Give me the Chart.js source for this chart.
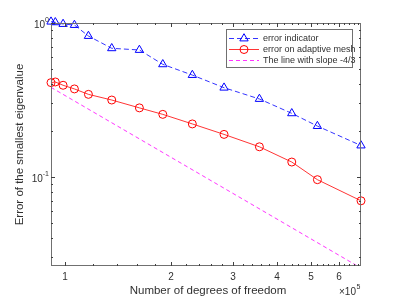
<!DOCTYPE html>
<html>
<head>
<meta charset="utf-8">
<script src="https://cdn.jsdelivr.net/npm/chart.js@4.4.0/dist/chart.umd.min.js"></script>
<style>
  html, body { margin: 0; padding: 0; background: #fff; }
  canvas { display: block; }
</style>
</head>
<body>
<canvas id="grafico" width="398" height="299"></canvas>
<script>
// degrees of freedom for each adaptive step
const grados = [91200, 93800, 98700, 106300, 116500, 135700, 162600, 189500, 229900, 282900, 356500, 440600, 521000, 693000];
// error indicator (blue triangles)
const errorIndicador = [1.02, 1.01, 0.985, 0.97, 0.823, 0.685, 0.668, 0.539, 0.459, 0.38, 0.321, 0.259, 0.214, 0.16];
// error on adaptive mesh (red circles)
const errorAdaptativo = [0.41, 0.414, 0.394, 0.373, 0.344, 0.316, 0.281, 0.255, 0.221, 0.189, 0.157, 0.125, 0.096, 0.07];
// reference line with slope -4/3
const pendienteX = [91200, 693000];
const pendienteY = [0.382, 0.0256];

const xTicksMayores = [100000, 200000, 300000, 400000, 500000, 600000];
const xTickTextos = ['1', '2', '3', '4', '5', '6'];
const yTicksMayores = [1, 0.1];
const yTickExp = ['0', '-1'];

const etiquetas = ['error indicator', 'error on adaptive mesh', 'The line with slope -4/3'];

const FUENTE = "'Liberation Sans', Arial, Helvetica, sans-serif";
const TEXTO = '#303030';

function puntos(xs, ys) {
  return xs.map((x, i) => ({ x: x, y: ys[i] }));
}

const ejesMatlab = {
  id: 'ejesMatlab',
  afterDatasetsDraw(chart) {
    const ctx = chart.ctx;
    const a = chart.chartArea;
    const sx = chart.scales.x, sy = chart.scales.y;
    ctx.save();

    // caja de ejes
    ctx.strokeStyle = '#707070';
    ctx.lineWidth = 1;
    ctx.strokeRect(a.left + 0.5, a.top + 0.5, a.right - a.left - 1, a.bottom - a.top - 1);

    // ticks en x
    ctx.strokeStyle = '#404040';
    ctx.beginPath();
    for (let v = 100000; v <= sx.max; v += 20000) {
      const px = Math.round(sx.getPixelForValue(v)) + 0.5;
      const len = (v % 100000 === 0) ? 4 : 2;
      ctx.moveTo(px, a.bottom); ctx.lineTo(px, a.bottom - len);
      ctx.moveTo(px, a.top); ctx.lineTo(px, a.top + len);
    }
    // ticks en y
    for (let d = 0.01; d < 1; d *= 10) {
      for (let k = 1; k <= 9; k++) {
        const v = d * k;
        if (v < sy.min || v > sy.max + 1e-9) continue;
        const py = Math.round(sy.getPixelForValue(v)) + 0.5;
        const len = (k === 1) ? 4 : 2;
        ctx.moveTo(a.left, py); ctx.lineTo(a.left + len, py);
        ctx.moveTo(a.right, py); ctx.lineTo(a.right - len, py);
      }
    }
    const pTop = Math.round(sy.getPixelForValue(1)) + 0.5;
    ctx.moveTo(a.left, pTop); ctx.lineTo(a.left + 4, pTop);
    ctx.stroke();

    // etiquetas de ticks
    ctx.fillStyle = TEXTO;
    ctx.font = '10px ' + FUENTE;
    ctx.textAlign = 'center';
    ctx.textBaseline = 'middle';
    xTicksMayores.forEach((v, i) => {
      ctx.fillText(xTickTextos[i], sx.getPixelForValue(v), a.bottom + 11);
    });
    yTicksMayores.forEach((v, i) => {
      const py = sy.getPixelForValue(v);
      ctx.font = '7px ' + FUENTE;
      const wExp = ctx.measureText(yTickExp[i]).width;
      ctx.textAlign = 'left';
      ctx.fillText(yTickExp[i], a.left - 2 - wExp, py - 3);
      ctx.font = '10px ' + FUENTE;
      ctx.textAlign = 'right';
      ctx.fillText('10', a.left - 2 - wExp, py + 2);
    });

    // multiplicador x10^5
    ctx.textAlign = 'left';
    ctx.font = '10px ' + FUENTE;
    ctx.fillText('\u00d710', 339, 292);
    ctx.font = '7px ' + FUENTE;
    ctx.fillText('5', 339 + ctx.measureText('\u00d710').width * 10 / 7 + 0.5, 287);

    // titulos de ejes
    ctx.font = '11.5px ' + FUENTE;
    ctx.textAlign = 'center';
    ctx.fillText('Number of degrees of freedom', 208, 290.5);
    ctx.save();
    ctx.translate(20, (a.top + a.bottom) / 2);
    ctx.rotate(-Math.PI / 2);
    ctx.fillText('Error of the smallest eigenvalue', 0, 0);
    ctx.restore();

    // leyenda
    const lx = 226.5, ly = 29.5, lw = 126, lh = 38;
    ctx.fillStyle = '#fff';
    ctx.fillRect(lx, ly, lw, lh);
    ctx.strokeStyle = '#707070';
    ctx.strokeRect(lx, ly, lw, lh);
    const filas = [38.5, 49.5, 60.5];
    chart.data.datasets.forEach((ds, i) => {
      const y = filas[i];
      ctx.save();
      ctx.strokeStyle = ds.borderColor;
      ctx.lineWidth = ds.borderWidth;
      ctx.setLineDash(ds.borderDash || []);
      ctx.beginPath();
      ctx.moveTo(229, y); ctx.lineTo(259, y);
      ctx.stroke();
      ctx.restore();
      if (ds.pointRadius > 0) {
        ctx.save();
        ctx.strokeStyle = ds.borderColor;
        ctx.fillStyle = 'rgba(0,0,0,0)';
        ctx.lineWidth = 1;
        Chart.helpers.drawPoint(ctx, { pointStyle: ds.pointStyle, radius: ds.pointRadius, borderWidth: 1, rotation: 0 }, 244, y);
        ctx.restore();
      }
      ctx.fillStyle = TEXTO;
      ctx.font = '9px ' + FUENTE;
      ctx.textAlign = 'left';
      ctx.textBaseline = 'middle';
      ctx.fillText(etiquetas[i], 263, y);
    });

    ctx.restore();
  }
};

new Chart(document.getElementById('grafico'), {
  type: 'line',
  data: {
    datasets: [
      {
        label: etiquetas[0],
        data: puntos(grados, errorIndicador),
        borderColor: '#0000ff',
        borderWidth: 0.8,
        borderDash: [5, 3],
        pointStyle: 'triangle',
        pointRadius: 4.8,
        pointBorderWidth: 1,
        pointBackgroundColor: 'rgba(0,0,0,0)',
        clip: false
      },
      {
        label: etiquetas[1],
        data: puntos(grados, errorAdaptativo),
        borderColor: '#ff0000',
        borderWidth: 0.8,
        pointStyle: 'circle',
        pointRadius: 4,
        pointBorderWidth: 1,
        pointBackgroundColor: 'rgba(0,0,0,0)',
        clip: false
      },
      {
        label: etiquetas[2],
        data: puntos(pendienteX, pendienteY),
        borderColor: '#ff00ff',
        borderWidth: 0.8,
        borderDash: [4, 3],
        pointRadius: 0
      }
    ]
  },
  options: {
    responsive: false,
    animation: false,
    layout: { padding: { left: 51, top: 23, right: 37, bottom: 33 } },
    plugins: {
      legend: { display: false },
      tooltip: { enabled: false }
    },
    scales: {
      x: { type: 'logarithmic', min: 91200, max: 693000, display: false },
      y: { type: 'logarithmic', min: 0.0264, max: 1, display: false }
    }
  },
  plugins: [ejesMatlab]
});
</script>
</body>
</html>
